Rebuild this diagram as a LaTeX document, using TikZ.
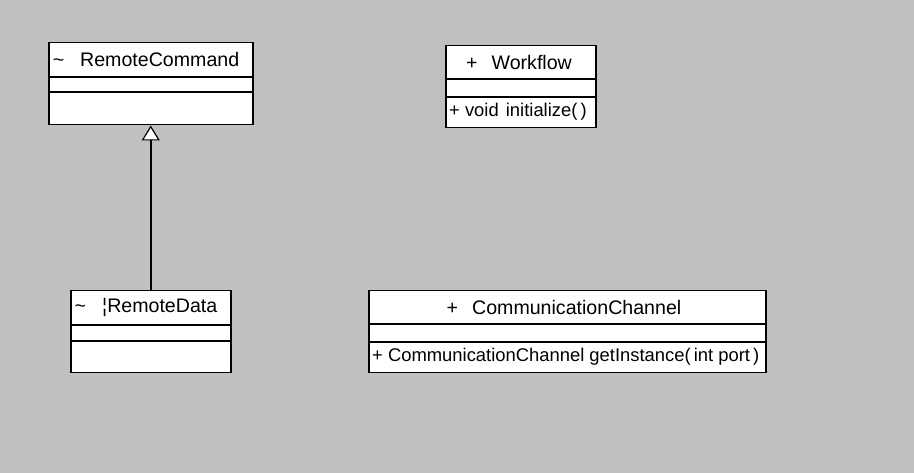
\documentclass[tikz,border=0pt]{standalone}
\usepackage{fontspec}
\setmainfont{Liberation Sans}
\usetikzlibrary{arrows.meta}

\definecolor{canvas}{RGB}{192,192,192}

\tikzset{
  classbox/.style={draw=black, fill=white, line width=1.5pt, anchor=north west, inner sep=0pt},
  classname/.style={font=\fontsize{19.6}{22}\selectfont, inner sep=0pt},
  classop/.style={font=\fontsize{18.4}{22}\selectfont, inner sep=0pt, anchor=west},
  part/.style={line width=1.5pt}
}

\begin{document}
\begin{tikzpicture}[x=1pt,y=-1pt]
  \useasboundingbox[fill=canvas] (0,0) rectangle (914,473);

  % RemoteCommand
  \node[classbox, minimum width=204pt, minimum height=82pt] (rcmd) at (48,42) {};
  \draw[part] (48,77) -- (252,77);
  \draw[part] (48,92) -- (252,92);
  \node[classname] (rcmdname) at (146,59) {\textasciitilde\hspace{16pt}RemoteCommand};

  % Workflow
  \node[classbox, minimum width=150pt, minimum height=82pt] (wflow) at (445,45) {};
  \draw[part] (445,79) -- (595,79);
  \draw[part] (445,97) -- (595,97);
  \node[classname] (wflowname) at (519,62) {+\hspace{14pt}Workflow};
  \node[classop] (wflowop) at (449,112) {+ void\hspace{2pt} initialize(\,)};

  % RemoteData
  \node[classbox, minimum width=160pt, minimum height=82pt] (rdata) at (70,290) {};
  \draw[part] (70,325) -- (230,325);
  \draw[part] (70,341) -- (230,341);
  \node[classname] (rdataname) at (146,307) {\textasciitilde\hspace{16pt}¦RemoteData};

  % CommunicationChannel
  \node[classbox, minimum width=397pt, minimum height=82pt] (cchan) at (368,290) {};
  \draw[part] (368,324) -- (765,324);
  \draw[part] (368,342) -- (765,342);
  \node[classname] (cchanname) at (564,307) {+\hspace{14pt}CommunicationChannel};
  \node[classop] (cchanop) at (372,357) {+ CommunicationChannel getInstance(\,int port\,)};

  % generalisation
  \draw[line width=1.5pt, -{Triangle[fill=white, width=18pt, length=15pt, line width=1.2pt]}] (rdata.north) -- (rcmd.south);
\end{tikzpicture}
\end{document}
